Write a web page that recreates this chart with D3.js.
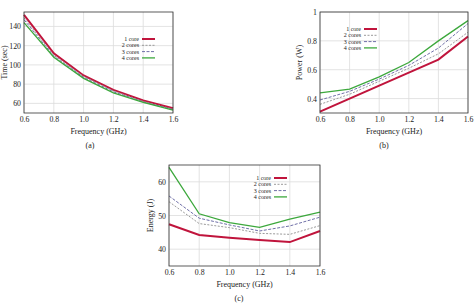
<!DOCTYPE html>
<html>
<head>
<meta charset="utf-8">
<script src="https://cdn.jsdelivr.net/npm/d3@7"></script>
<style>
  body { margin: 0; background: #fff; }
  svg text { font-family: "Liberation Serif", "DejaVu Serif", serif; fill: #222; }
</style>
</head>
<body>
<div id="chart"></div>
<script>
const freqs = [0.6, 0.8, 1.0, 1.2, 1.4, 1.6];
const seriesNames = ["1 core", "2 cores", "3 cores", "4 cores"];

const timeValues = [
  [152, 112, 89, 74, 63, 55],
  [149, 110, 88, 73, 62, 54],
  [147, 109, 87, 72, 61.5, 53.5],
  [144, 108, 86, 71, 61, 53]
];
const powerValues = [
  [0.31, 0.40, 0.49, 0.58, 0.67, 0.83],
  [0.36, 0.43, 0.52, 0.61, 0.71, 0.86],
  [0.39, 0.45, 0.535, 0.63, 0.75, 0.92],
  [0.44, 0.465, 0.55, 0.65, 0.80, 0.94]
];
const energyValues = [
  [47.4, 44.2, 43.4, 42.7, 42.1, 45.4],
  [54.1, 47.6, 46.4, 44.7, 44.4, 47.0],
  [55.8, 49.2, 47.2, 45.4, 46.9, 49.5],
  [64.3, 50.5, 47.9, 46.5, 48.9, 51.0]
];

const xTicks = [0.6, 0.8, 1.0, 1.2, 1.4, 1.6];
const timeTicks = [60, 80, 100, 120, 140];
const powerTicks = [0.4, 0.6, 0.8, 1];
const energyTicks = [40, 50, 60];

const styles = [
  { color: "#c0143c", width: 2, dash: null },
  { color: "#9a9a9a", width: 1, dash: "2,1.5" },
  { color: "#7070a8", width: 1, dash: "3,1.5" },
  { color: "#3ca83c", width: 1.3, dash: null }
];

const svg = d3.select("#chart").append("svg")
  .attr("width", 476)
  .attr("height", 307);

function drawPanel(p) {
  const g = svg.append("g");
  const x = d3.scaleLinear().domain([0.6, 1.6]).range([p.left, p.right]);
  const y = d3.scaleLinear().domain(p.yDomain).range([p.bottom, p.top]);

  // grid
  g.selectAll(".gx").data(xTicks).join("line")
    .attr("x1", d => x(d)).attr("x2", d => x(d))
    .attr("y1", p.top).attr("y2", p.bottom)
    .attr("stroke", "#dcdcdc").attr("stroke-width", 0.8);
  g.selectAll(".gy").data(p.yTicks).join("line")
    .attr("x1", p.left).attr("x2", p.right)
    .attr("y1", d => y(d)).attr("y2", d => y(d))
    .attr("stroke", "#dcdcdc").attr("stroke-width", 0.8);

  // axes via d3 axes, lines hidden
  const xa = g.append("g").attr("transform", `translate(0,${p.bottom})`)
    .call(d3.axisBottom(x).tickValues(xTicks).tickFormat(d3.format(".1f")).tickSize(0).tickPadding(3));
  const ya = g.append("g").attr("transform", `translate(${p.left},0)`)
    .call(d3.axisLeft(y).tickValues(p.yTicks).tickFormat(p.yFormat).tickSize(0).tickPadding(3));
  [xa, ya].forEach(a => {
    a.select(".domain").remove();
    a.selectAll("text").attr("font-size", "7.8px")
      .style("font-family", "Liberation Serif, serif").attr("fill", "#222");
  });

  // lines
  const line = d3.line().x((d, i) => x(freqs[i])).y(d => y(d));
  p.values.forEach((vals, i) => {
    g.append("path").datum(vals)
      .attr("d", line)
      .attr("fill", "none")
      .attr("stroke", styles[i].color)
      .attr("stroke-width", styles[i].width)
      .attr("stroke-dasharray", styles[i].dash);
  });

  // frame
  g.append("rect")
    .attr("x", p.left).attr("y", p.top)
    .attr("width", p.right - p.left).attr("height", p.bottom - p.top)
    .attr("fill", "none").attr("stroke", "#333").attr("stroke-width", 0.8);

  // legend
  const lg = g.append("g");
  seriesNames.forEach((name, i) => {
    const ly = p.legY + i * 6.3;
    lg.append("text")
      .attr("x", p.legX).attr("y", ly + 2)
      .attr("text-anchor", "end")
      .attr("font-size", "6px")
      .text(name);
    lg.append("line")
      .attr("x1", p.legX + 3).attr("x2", p.legX + 16)
      .attr("y1", ly).attr("y2", ly)
      .attr("stroke", styles[i].color)
      .attr("stroke-width", styles[i].width)
      .attr("stroke-dasharray", styles[i].dash);
  });

  // axis titles
  g.append("text")
    .attr("x", (p.left + p.right) / 2).attr("y", p.bottom + 21)
    .attr("text-anchor", "middle").attr("font-size", "8px")
    .text("Frequency (GHz)");
  g.append("text")
    .attr("transform", `translate(${p.yLabelX},${(p.top + p.bottom) / 2}) rotate(-90)`)
    .attr("text-anchor", "middle").attr("font-size", "8px")
    .text(p.yLabel);
  g.append("text")
    .attr("x", p.capX).attr("y", p.bottom + 35)
    .attr("text-anchor", "middle").attr("font-size", "8px")
    .text(p.caption);
}

drawPanel({
  left: 24, right: 173, top: 12, bottom: 113,
  yDomain: [50, 155], yTicks: timeTicks, yFormat: d3.format("d"),
  values: timeValues, yLabel: "Time (sec)", yLabelX: 7,
  legX: 139, legY: 39, caption: "(a)", capX: 90
});
drawPanel({
  left: 320, right: 468, top: 12, bottom: 113,
  yDomain: [0.3, 1], yTicks: powerTicks, yFormat: d => d === 1 ? "1" : d3.format(".1f")(d),
  values: powerValues, yLabel: "Power (W)", yLabelX: 302,
  legX: 361, legY: 29, caption: "(b)", capX: 384
});
drawPanel({
  left: 169, right: 320, top: 165, bottom: 266,
  yDomain: [35, 65], yTicks: energyTicks, yFormat: d3.format("d"),
  values: energyValues, yLabel: "Energy (J)", yLabelX: 153,
  legX: 271, legY: 178, caption: "(c)", capX: 239
});
</script>
</body>
</html>
